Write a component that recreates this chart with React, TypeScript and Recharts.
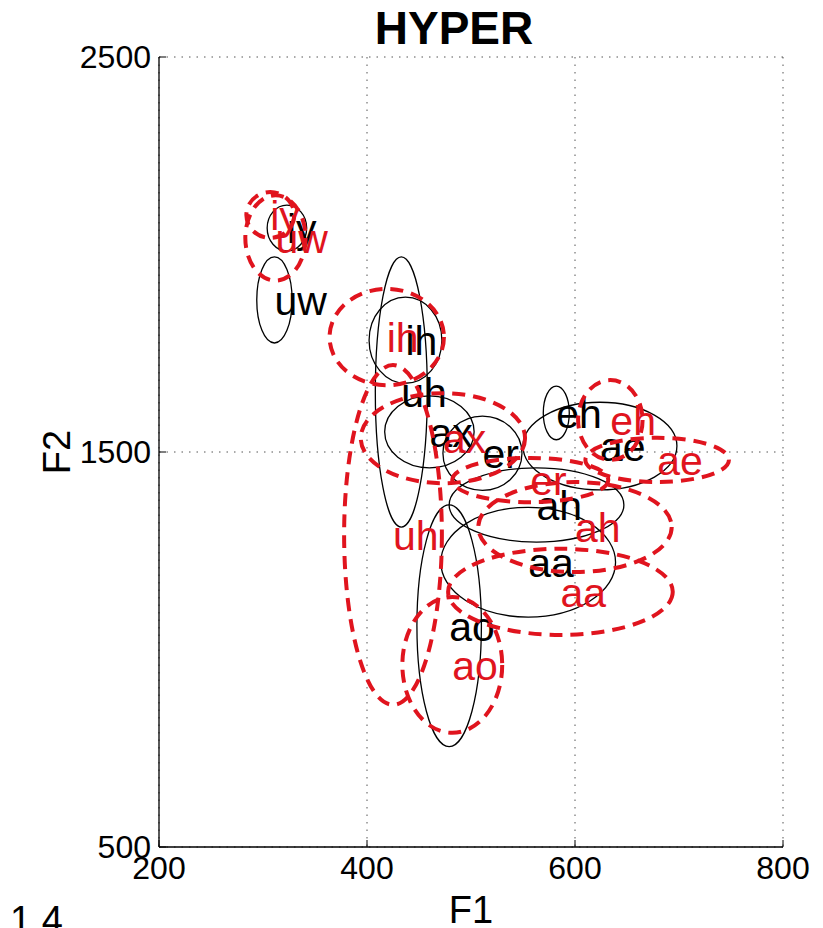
import React from "react";
import * as RC from "recharts";
import { CartesianGrid, Scatter, ScatterChart, XAxis, YAxis } from "recharts";

const X_MIN = 200;
const X_MAX = 800;
const Y_MIN = 500;
const Y_MAX = 2500;
const xTicks = [200, 400, 600, 800];
const yTicks = [500, 1500, 2500];

// speaker 1 (black, solid)
const blackVowels = ["iy", "uw", "ih", "uh", "ax", "er", "eh", "ae", "ah", "aa", "ao"];
const blackF1 = [323, 311, 437, 433, 460, 511, 582, 624, 563, 555, 479];
const blackF2 = [2067, 1885, 1783, 1652, 1551, 1497, 1599, 1515, 1366, 1221, 1060];
const blackF1Spread = [19, 17, 35, 25, 43, 38, 12.5, 74, 84, 84, 31];
const blackF2Spread = [58, 109, 109, 342, 91, 94, 68, 111, 94, 139, 306];

// speaker 2 (red, dashed)
const redVowels = ["iy", "uw", "ih", "uh", "ax", "er", "eh", "ae", "ah", "aa", "ao"];
const redF1 = [307, 312, 419, 425, 473, 557, 634, 679, 600, 586, 482];
const redF2 = [2100, 2042, 1791, 1290, 1535, 1429, 1581, 1480, 1310, 1146, 961];
const redF1Spread = [23, 29, 55, 47, 79, 75, 31, 69, 93, 108, 48];
const redF2Spread = [58, 108, 122, 430, 114, 56, 101, 56, 114, 109, 172];

const RED = "#e0141e";
const FONT = "'Liberation Sans', Arial, Helvetica, sans-serif";

const build = (v: string[], f1: number[], f2: number[], s1: number[], s2: number[]) =>
  v.map((label, i) => ({ label, x: f1[i], y: f2[i], rx: s1[i], ry: s2[i] }));

const blackData = build(blackVowels, blackF1, blackF2, blackF1Spread, blackF2Spread);
const redData = build(redVowels, redF1, redF2, redF1Spread, redF2Spread);

const usePlot: () => any = (RC as any).usePlotArea ?? (() => undefined);

function EllipseMark(props: any) {
  const { cx, cy, payload, color, dashed } = props;
  const plot = usePlot();
  const kx = (plot?.width ?? 624) / (X_MAX - X_MIN);
  const ky = (plot?.height ?? 790) / (Y_MAX - Y_MIN);
  if (cx == null || cy == null) return null;
  return (
    <g>
      <ellipse
        cx={cx}
        cy={cy}
        rx={payload.rx * kx}
        ry={payload.ry * ky}
        fill="none"
        stroke={color}
        strokeWidth={dashed ? 4 : 1.3}
        strokeDasharray={dashed ? "13 8" : undefined}
      />
      <text x={cx} y={cy} dy="0.36em" fontSize={41} fontFamily={FONT} fill={color}>
        {payload.label}
      </text>
    </g>
  );
}

const XTick = (p: any) => (
  <g>
    <line x1={p.x} x2={p.x} y1={p.y} y2={p.y - 7} stroke="#000" />
    <text x={p.x} y={p.y + 32} textAnchor="middle" fontSize={32} fontFamily={FONT} fill="#000">
      {p.payload.value}
    </text>
  </g>
);

const YTick = (p: any) => (
  <g>
    <line x1={p.x} x2={p.x + 7} y1={p.y} y2={p.y} stroke="#000" />
    <text x={p.x - 8} y={p.y + 11} textAnchor="end" fontSize={32} fontFamily={FONT} fill="#000">
      {p.payload.value}
    </text>
  </g>
);

const XTitle = (p: any) => {
  const vb = p.viewBox ?? { x: 159, y: 847, width: 624, height: 81 };
  return (
    <text x={vb.x + vb.width / 2} y={923} textAnchor="middle" fontSize={38} fontFamily={FONT} fill="#000">
      F1
    </text>
  );
};

const YTitle = (p: any) => {
  const vb = p.viewBox ?? { x: 0, y: 57, width: 159, height: 790 };
  const cy = vb.y + vb.height / 2;
  return (
    <text
      x={56}
      y={cy}
      transform={`rotate(-90, 56, ${cy})`}
      textAnchor="middle"
      dy="0.36em"
      fontSize={38}
      fontFamily={FONT}
      fill="#000"
    >
      F2
    </text>
  );
};

export default function App() {
  return (
    <div style={{ position: "absolute", left: 0, top: 0, width: 823, height: 928, background: "#fff", overflow: "hidden" }}>
      <ScatterChart width={823} height={928} margin={{ top: 57, right: 40, bottom: 0, left: 0 }}>
        <CartesianGrid stroke="#555" strokeDasharray="1.5 6" />
        <XAxis
          type="number"
          dataKey="x"
          domain={[X_MIN, X_MAX]}
          ticks={xTicks}
          allowDataOverflow
          height={81}
          tickSize={0}
          tickMargin={0}
          tickLine={false}
          tick={<XTick />}
          axisLine={{ stroke: "#000", strokeWidth: 1.3 }}
          label={<XTitle />}
        />
        <YAxis
          type="number"
          dataKey="y"
          domain={[Y_MIN, Y_MAX]}
          ticks={yTicks}
          allowDataOverflow
          width={159}
          tickSize={0}
          tickMargin={0}
          tickLine={false}
          tick={<YTick />}
          axisLine={{ stroke: "#000", strokeWidth: 1.3 }}
          label={<YTitle />}
        />
        <Scatter data={blackData} isAnimationActive={false} shape={<EllipseMark color="#000" />} />
        <Scatter data={redData} isAnimationActive={false} shape={<EllipseMark color={RED} dashed />} />
      </ScatterChart>
      <svg width={823} height={928} style={{ position: "absolute", left: 0, top: 0, pointerEvents: "none" }}>
        <text x={454} y={44} textAnchor="middle" fontSize={46} fontWeight="bold" fontFamily={FONT} fill="#000">
          HYPER
        </text>
        <text x={10} y={933} fontSize={38} fontFamily={FONT} fill="#000">
          1.4
        </text>
      </svg>
    </div>
  );
}
